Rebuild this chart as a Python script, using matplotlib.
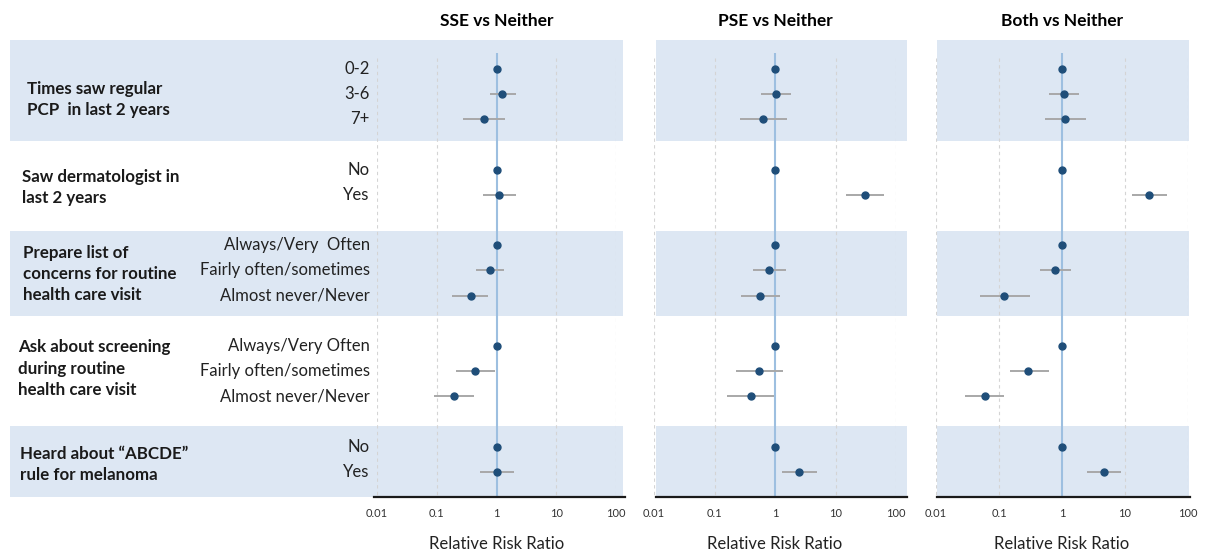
import numpy as np
import matplotlib
matplotlib.use("Agg")
import matplotlib.pyplot as plt

plt.rcParams['font.family'] = ['Lato', 'DejaVu Sans']

# ---- data ----
groups = ['Times saw regular\nPCP  in last 2 years',
          'Saw dermatologist in\nlast 2 years',
          'Prepare list of\nconcerns for routine\nhealth care visit',
          'Ask about screening\nduring routine\nhealth care visit',
          'Heard about \u201cABCDE\u201d\nrule for melanoma']
levels = [['0-2', '3-6', '7+'],
          ['No', 'Yes'],
          ['Always/Very  Often', 'Fairly often/sometimes', 'Almost never/Never'],
          ['Always/Very Often', 'Fairly often/sometimes', 'Almost never/Never'],
          ['No', 'Yes']]

panels = ['SSE vs Neither', 'PSE vs Neither', 'Both vs Neither']

# relative risk ratio and 95% CI per row (reference rows have no CI)
nan = np.nan
sse_rr = [1.0, 1.26, 0.62, 1.0, 1.12, 1.0, 0.77, 0.37, 1.0, 0.44, 0.196, 1.0, 1.0]
sse_lo = [nan, 0.77, 0.28, nan, 0.60, nan, 0.45, 0.18, nan, 0.21, 0.089, nan, 0.53]
sse_hi = [nan, 2.08, 1.40, nan, 2.14, nan, 1.36, 0.71, nan, 0.95, 0.42, nan, 2.0]

pse_rr = [1.0, 1.05, 0.64, 1.0, 30.6, 1.0, 0.81, 0.575, 1.0, 0.55, 0.40, 1.0, 2.54]
pse_lo = [nan, 0.59, 0.26, nan, 15.1, nan, 0.43, 0.275, nan, 0.23, 0.16, nan, 1.32]
pse_hi = [nan, 1.83, 1.57, nan, 63.0, nan, 1.53, 1.22, nan, 1.35, 0.96, nan, 5.0]

both_rr = [1.0, 1.08, 1.13, 1.0, 24.0, 1.0, 0.78, 0.119, 1.0, 0.29, 0.059, 1.0, 4.58]
both_lo = [nan, 0.62, 0.54, nan, 12.7, nan, 0.45, 0.050, nan, 0.15, 0.029, nan, 2.52]
both_hi = [nan, 1.86, 2.43, nan, 46.8, nan, 1.40, 0.31, nan, 0.62, 0.12, nan, 8.5]

ticks = [0.01, 0.1, 1, 10, 100]
tick_labels = ['0.01', '0.1', '1', '10', '100']

# ---- row positions: one blank row between groups ----
ypos = []
gcenter = []
y = 0
for lv in levels:
    rows = list(range(y, y + len(lv)))
    ypos += rows
    gcenter.append(np.mean(rows))
    y += len(lv) + 1
ypos = np.array(ypos)

W, H = 1213, 553
fig = plt.figure(figsize=(W / 100, H / 100), dpi=100)

band_color = '#dde7f3'
ytop, ybot = -1.15, 17.0
bands = [(-1.15, 2.86), (6.43, 9.8), (14.2, 17.0)]
glabel_x = [27, 22, 23, 18, 20]       # left edge (px) of each group label
glabel_dy = [0.2, 0.2, 0.15, -0.1, 0.2]

# panel geometry in pixels: axes left/right (0.01..100), band left/right, base line left/right
geo = [(377, 616, 10, 623, 374, 625),
       (654, 896, 656, 907, 656, 907),
       (936, 1188, 937, 1189, 937, 1190)]
top_px, bot_px = 40, 497

data = [(sse_rr, sse_lo, sse_hi), (pse_rr, pse_lo, pse_hi), (both_rr, both_lo, both_hi)]

for i, (title, (rr, lo, hi)) in enumerate(zip(panels, data)):
    l, r, bl, br, ll, lr = geo[i]
    ax = fig.add_axes([l / W, 1 - bot_px / H, (r - l) / W, (bot_px - top_px) / H])
    ax.set_xscale('log')
    ax.set_xlim(0.01, 100)
    ax.set_ylim(ybot, ytop)
    ax.patch.set_alpha(0)
    for s in ax.spines.values():
        s.set_visible(False)
    w = r - l
    for b0, b1 in bands:
        ax.axhspan(b0, b1, xmin=(bl - l) / w, xmax=(br - l) / w,
                   color=band_color, lw=0, clip_on=False, zorder=0)
    ax.plot([(ll - l) / w, (lr - l) / w], [0, 0], transform=ax.transAxes,
            color='#1a1a1a', lw=1.6, clip_on=False, zorder=3)
    for t in [0.01, 0.1, 10, 100]:
        ax.vlines(t, -0.45, ybot, colors='#d4d4d4', linestyles=(0, (3, 3)), lw=0.8, zorder=1)
    ax.vlines(1, -0.65, ybot, colors='#9dbfe0', lw=1.5, zorder=2)

    rr = np.array(rr); lo = np.array(lo); hi = np.array(hi)
    ax.hlines(ypos, lo, hi, colors='#a8a8a8', lw=1.4, zorder=3)
    ax.plot(rr, ypos, 'o', color='#1f4e79', ms=5, zorder=4)

    ax.set_xticks(ticks)
    ax.set_xticklabels(tick_labels, fontsize=8, color='#333333')
    ax.minorticks_off()
    ax.tick_params(axis='x', length=0, pad=8)
    ax.set_yticks([])
    ax.set_xlabel('Relative Risk Ratio', fontsize=12, labelpad=12, color='#222222')
    ax.set_title(title, fontsize=12.5, fontweight='bold', pad=10)

    if i == 0:
        for yy, lab in zip(ypos, [s for lv in levels for s in lv]):
            ax.text(-0.03, yy, lab, transform=ax.get_yaxis_transform(),
                    ha='right', va='center', fontsize=12, color='#222222')
        for gc, g, gx, dy in zip(gcenter, groups, glabel_x, glabel_dy):
            ax.text((gx - l) / w, gc + dy, g, transform=ax.get_yaxis_transform(),
                    ha='left', va='center', fontsize=12.2, fontweight='bold',
                    linespacing=1.4, color='#1a1a1a')

fig.savefig('out.png', dpi=100)
